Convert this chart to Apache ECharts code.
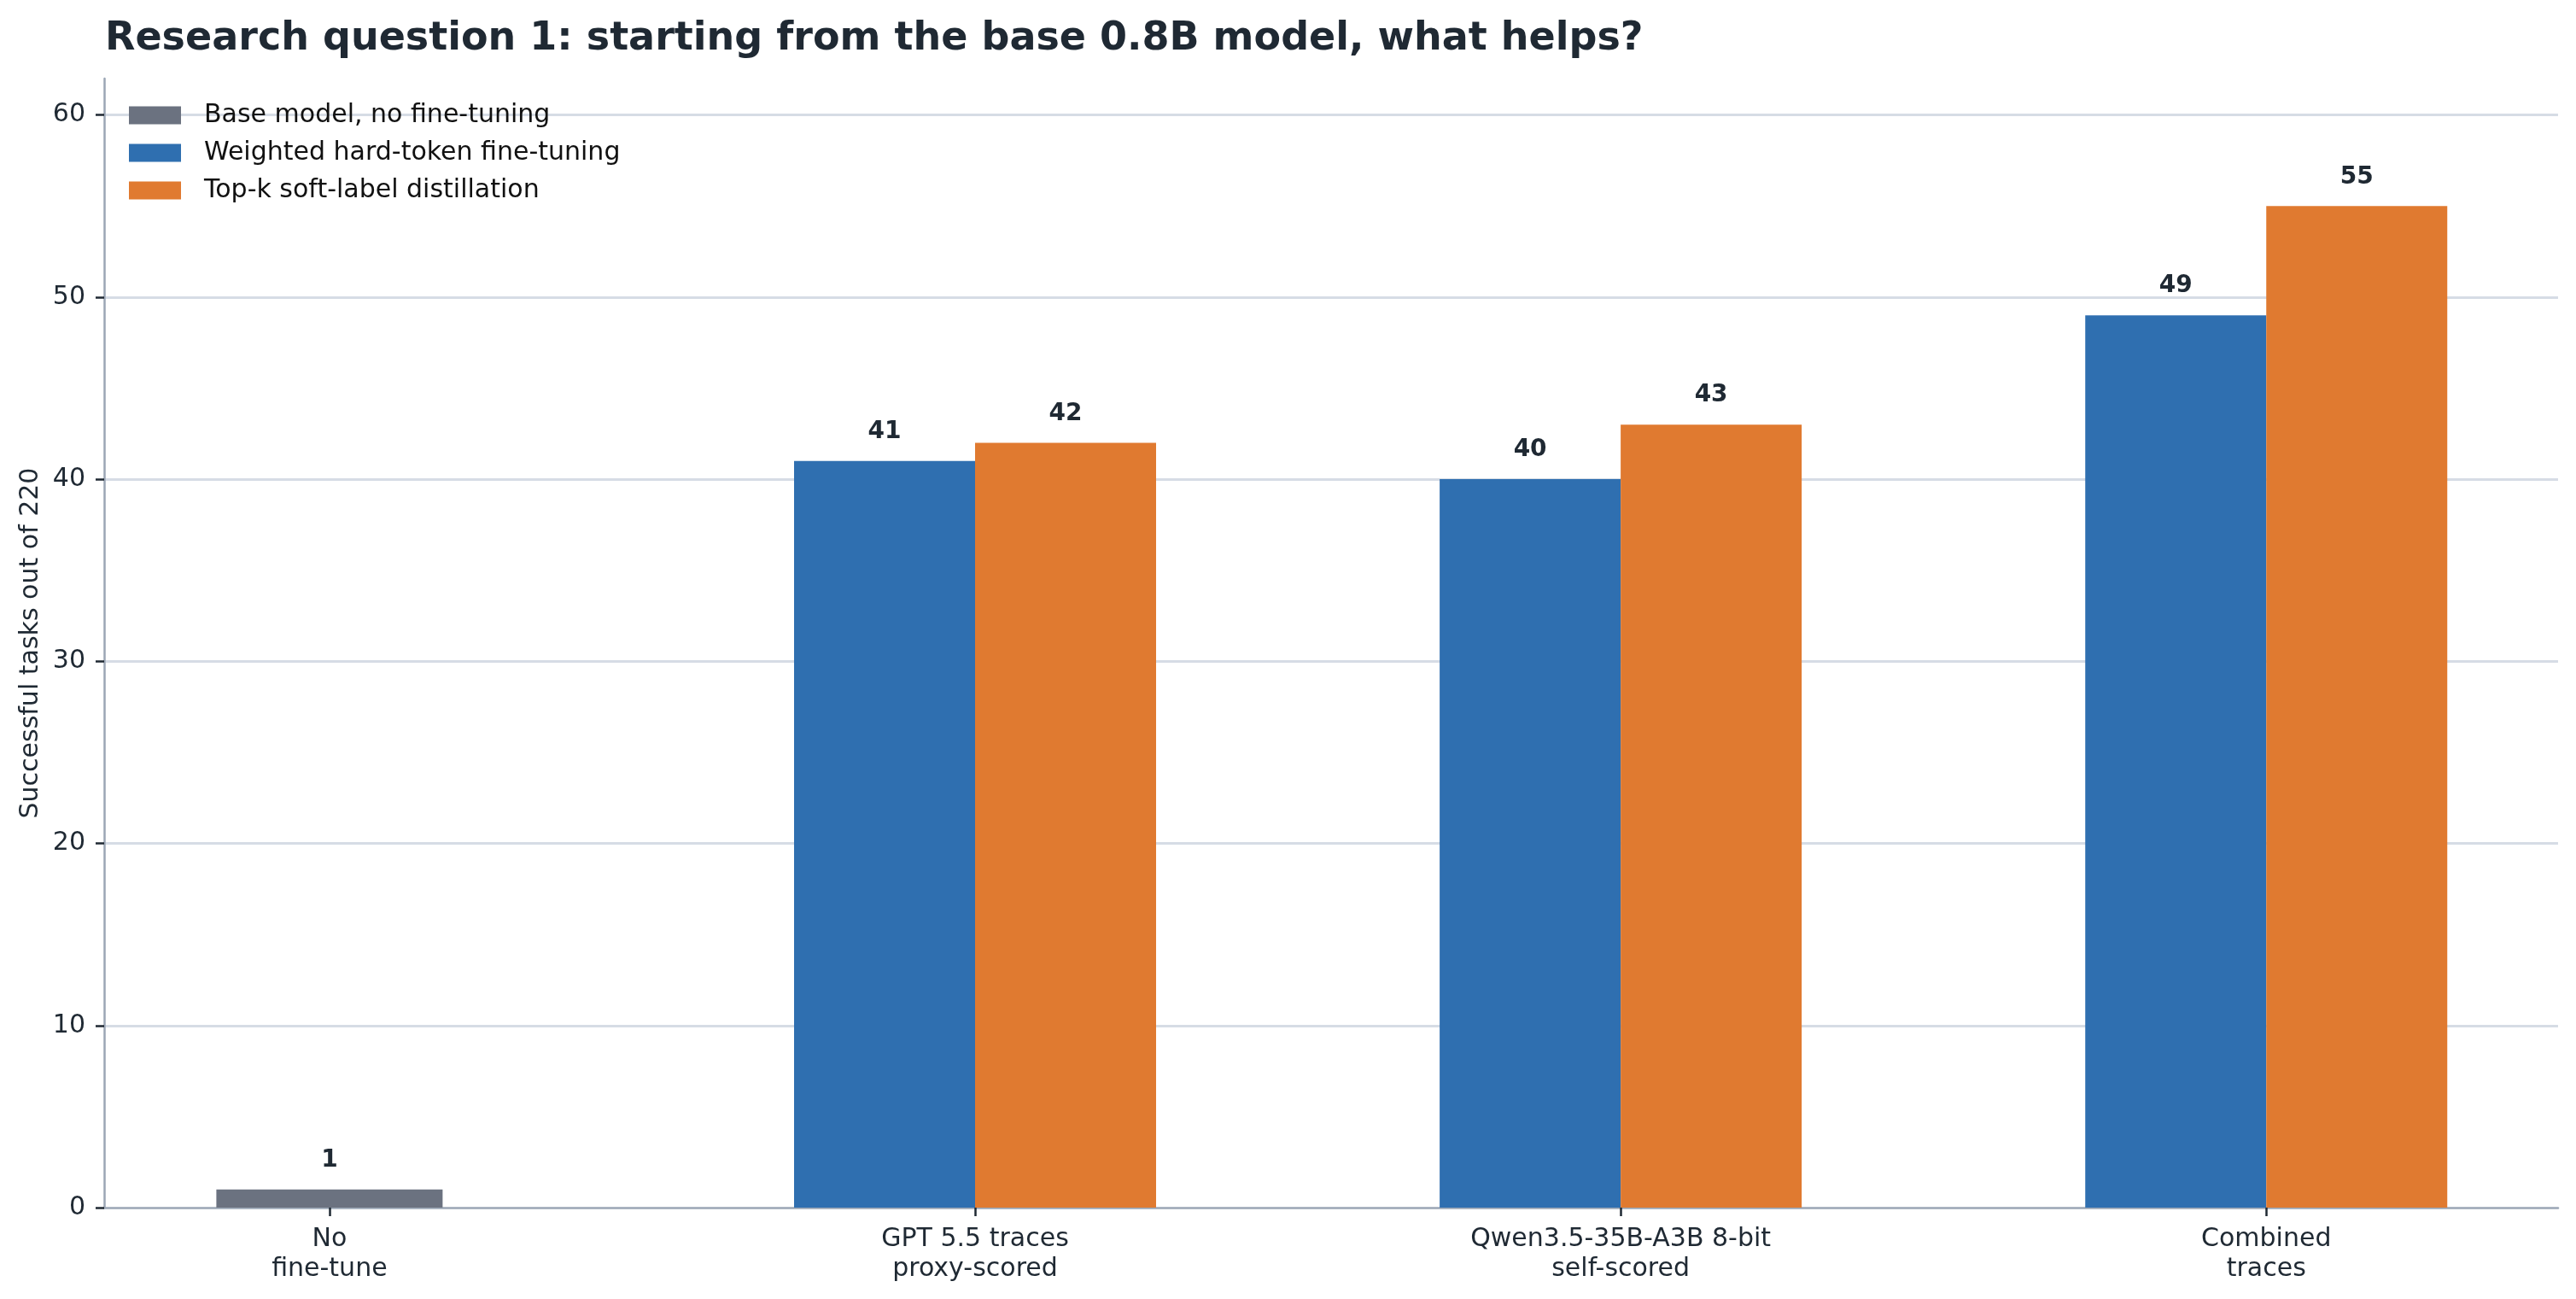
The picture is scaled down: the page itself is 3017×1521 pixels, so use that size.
<!DOCTYPE html>
<html>
<head>
<meta charset="utf-8">
<script src="https://cdn.jsdelivr.net/npm/echarts@6/dist/echarts.min.js"></script>
<style>
html,body{margin:0;padding:0;background:#fff;}
#chart{width:3017px;height:1521px;}
</style>
</head>
<body>
<div id="chart"></div>
<script>
// ---- data ----
const categories = ["No\nfine-tune", "GPT 5.5 traces\nproxy-scored", "Qwen3.5-35B-A3B 8-bit\nself-scored", "Combined\ntraces"];
const seriesNames = ["Base model, no fine-tuning", "Weighted hard-token fine-tuning", "Top-k soft-label distillation"];
const baseValues = [1, null, null, null];
const weightedValues = [null, 41, 40, 49];
const topkValues = [null, 42, 43, 55];
const yTicks = [0, 10, 20, 30, 40, 50, 60];

// ---- styles ----
const TEXT = '#1f2933';
const FONT = 'DejaVu Sans';
const toPts = arr => arr.map((v, i) => [i, v]).filter(p => p[1] !== null);
const xMin = -0.349, xMax = 3.452;

const chart = echarts.init(document.getElementById('chart'), null, {renderer: 'canvas'});

const valueLabel = {
  show: true, position: 'top', distance: 20,
  fontFamily: FONT, fontWeight: 'bold', fontSize: 28, color: TEXT
};

const option = {
  backgroundColor: '#ffffff',
  animation: false,
  textStyle: {fontFamily: FONT},
  title: {
    text: 'Research question 1: starting from the base 0.8B model, what helps?',
    left: 118, top: 18,
    textStyle: {fontFamily: FONT, fontWeight: 'bold', fontSize: 46, color: TEXT}
  },
  legend: {
    orient: 'vertical', left: 151, top: 120, padding: 0,
    itemWidth: 61, itemHeight: 21, itemGap: 14, icon: 'rect',
    data: seriesNames,
    textStyle: {fontFamily: FONT, fontSize: 30, color: '#111111', padding: [0, 0, 0, 22]}
  },
  grid: {left: 122, right: 21, top: 92, bottom: 107, containLabel: false},
  xAxis: [{
    type: 'value', min: xMin, max: xMax,
    axisLine: {show: true, onZero: false, lineStyle: {color: '#9ba6b5', width: 2.5}},
    axisTick: {show: true, length: 10, customValues: categories.map((c, i) => i), lineStyle: {color: TEXT, width: 2.5}},
    axisLabel: {
      show: true, customValues: categories.map((c, i) => i), margin: 20,
      formatter: v => categories[Math.round(v)] ?? '',
      fontFamily: FONT, fontSize: 30, lineHeight: 35, color: TEXT, align: 'center'
    },
    splitLine: {show: false}
  }, {
    type: 'value', min: xMin, max: xMax, show: false,
    splitLine: {show: false}
  }],
  yAxis: {
    type: 'value', min: 0, max: 62, interval: 10,
    name: 'Successful tasks out of 220', nameLocation: 'middle', nameGap: 70,
    nameTextStyle: {fontFamily: FONT, fontSize: 30, color: TEXT},
    axisLine: {show: true, onZero: false, lineStyle: {color: '#9ba6b5', width: 2.5}},
    axisTick: {show: true, length: 10, customValues: yTicks, lineStyle: {color: TEXT, width: 2.5}},
    axisLabel: {customValues: yTicks, margin: 22, fontFamily: FONT, fontSize: 30, color: TEXT, showMaxLabel: true},
    splitLine: {show: true, showMaxLine: true, showMinLine: false, lineStyle: {color: '#d6dce5', width: 2.8}}
  },
  series: [
    {
      name: seriesNames[0], type: 'bar', xAxisIndex: 1, barWidth: 265,
      itemStyle: {color: '#6b7280'}, label: valueLabel, data: toPts(baseValues)
    },
    {
      name: seriesNames[1], type: 'bar', xAxisIndex: 0, barWidth: 212, barGap: '0%',
      itemStyle: {color: '#2f6fb0'}, label: valueLabel, data: toPts(weightedValues)
    },
    {
      name: seriesNames[2], type: 'bar', xAxisIndex: 0, barWidth: 212, barGap: '0%',
      itemStyle: {color: '#e07a30'}, label: valueLabel, data: toPts(topkValues)
    }
  ]
};
chart.setOption(option);
</script>
</body>
</html>
